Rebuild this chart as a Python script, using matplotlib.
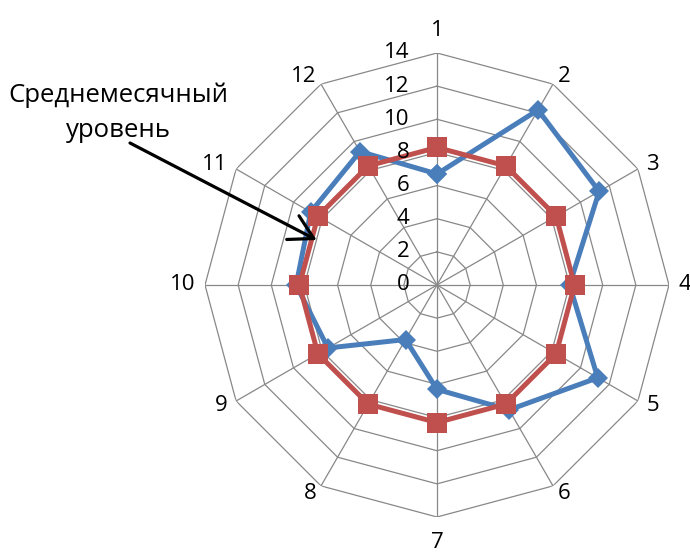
import numpy as np
import matplotlib
matplotlib.use("Agg")
import matplotlib.pyplot as plt

plt.rcParams['font.family'] = ['Open Sans', 'DejaVu Sans']

# Monthly values (blue) and the average monthly level (red)
months = ['1', '2', '3', '4', '5', '6', '7', '8', '9', '10', '11', '12']
monthly = [6.7, 12.2, 11.3, 8.0, 11.2, 8.7, 6.3, 3.8, 7.6, 8.5, 8.8, 9.3]
average = [8.3] * 12
r_ticks = [0, 2, 4, 6, 8, 10, 12, 14]
r_max = 14
note_text = "Среднемесячный\nуровень"

W, H = 690, 552
fig = plt.figure(figsize=(W / 100, H / 100), dpi=100)
cx, cy, rad = 437, 285, 232
ax = fig.add_axes([(cx - rad) / W, (H - cy - rad) / H, 2 * rad / W, 2 * rad / H],
                  projection='polar')
ax.set_theta_zero_location('N')
ax.set_theta_direction(-1)
ax.set_ylim(0, r_max)
ax.grid(False)
ax.spines['polar'].set_visible(False)
ax.set_yticks([])
ax.set_xticks([])

theta = np.deg2rad(np.arange(len(months)) * 360.0 / len(months))
theta_closed = np.append(theta, theta[0])

# polygonal web: rings and spokes
grid_color = '#888888'
for r in r_ticks[1:]:
    ax.plot(theta_closed, [r] * len(theta_closed), color=grid_color, lw=0.9, zorder=1)
for t in theta:
    ax.plot([t, t], [0, r_max], color=grid_color, lw=0.9, zorder=1)

# category labels around the web, anchored by the side they sit on
label_size = 16
for t, name in zip(theta, months):
    s, c = np.sin(t), np.cos(t)
    if abs(s) < 1e-6:
        ha, va = 'center', ('bottom' if c > 0 else 'top')
        off = (0, 9 * c if c > 0 else 11 * c)
    else:
        ha, va = ('left' if s > 0 else 'right'), 'center'
        off = (7 * s, 6 * c)
    ax.annotate(name, xy=(t, r_max), xytext=off, textcoords='offset points',
                ha=ha, va=va, fontsize=label_size, annotation_clip=False)

# radial value labels along the first spoke
for v in r_ticks:
    ax.annotate(str(v), xy=(0, v), xytext=(-20, 0), textcoords='offset points',
                ha='right', va='center', fontsize=label_size, zorder=6)

blue = '#4a7ebb'
red = '#c0504d'
ax.plot(theta_closed, monthly + monthly[:1], color=blue, lw=3.6,
        marker='D', markersize=10, markeredgewidth=0, zorder=3)
ax.plot(theta_closed, average + average[:1], color=red, lw=3.6,
        marker='s', markersize=14.5, markeredgewidth=0, zorder=4)

# annotation for the average line
fig.text(118 / W, 1 - 113 / H, note_text, ha='center', va='center',
         fontsize=18.5, linespacing=1.55)
ax.annotate('', xy=(np.deg2rad(290.5), 7.75), xycoords='data',
            xytext=(130, H - 143), textcoords='figure pixels',
            arrowprops=dict(arrowstyle='->,head_length=0.85,head_width=0.48',
                            color='black', lw=2.3, mutation_scale=20,
                            shrinkA=0, shrinkB=0),
            zorder=7, annotation_clip=False)

fig.savefig('out.png', dpi=100)
